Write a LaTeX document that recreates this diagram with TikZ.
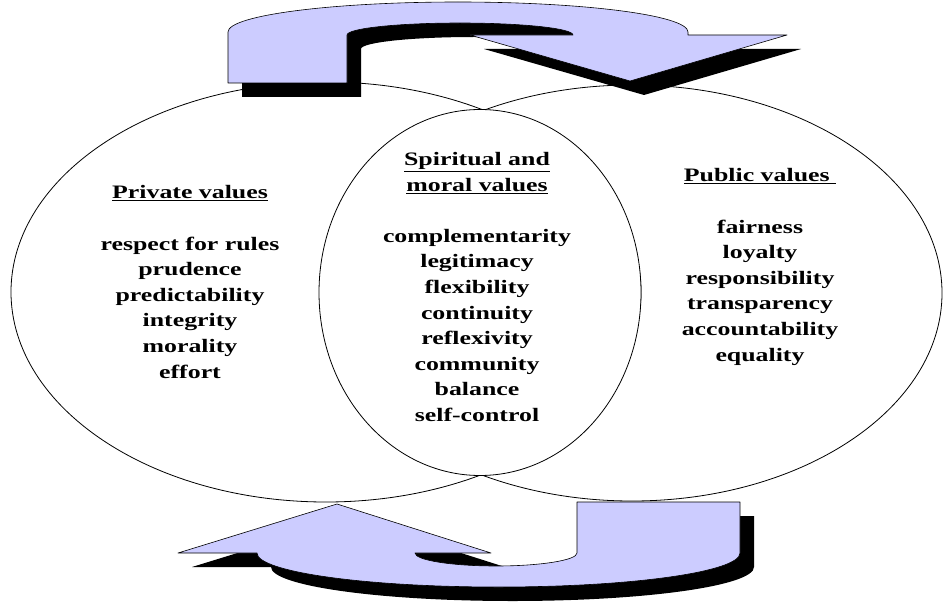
\documentclass[tikz,border=0pt]{standalone}
\usepackage{fontspec}
\setmainfont{Liberation Serif}[FakeStretch=1.36]
\usepackage{tikz}
\usetikzlibrary{positioning,shapes.geometric,calc}
\definecolor{arrowLilac}{HTML}{CCCCFF}

% outlines of the two turning arrows (pixel-like units, y downwards)
\newcommand{\toparrowpath}{(228,83) -- (228,32) arc[start angle=180,end angle=360,x radius=230,y radius=30] -- (688,35) -- (787,35) -- (630,81) -- (470,35) -- (573,35) arc[start angle=0,end angle=-180,x radius=113,y radius=12] -- (347,83) -- cycle}
\newcommand{\bottomarrowpath}{(257,553) -- (178,553) -- (337,504) -- (491,553) -- (415,553) arc[start angle=180,end angle=0,x radius=81,y radius=13] -- (577,502) -- (740,502) -- (740,553) arc[start angle=0,end angle=180,x radius=241.5,y radius=34] -- cycle}

\begin{document}
\begin{tikzpicture}[
  x=1pt,y=-1pt,
  every node/.style={align=center,font=\bfseries\fontsize{19}{25.6}\selectfont},
  valuering/.style={draw,ellipse,line width=0.8pt,inner sep=0pt},
  arrowbody/.style={fill=arrowLilac,draw=black,line width=0.6pt,line join=round},
  arrowshade/.style={fill=black,shift={(14,14)}}
]
\useasboundingbox (0,0) rectangle (944,607);

% --- value areas ---
\node[valuering,minimum width=630pt,minimum height=420pt] (private) at (326,292) {};
\node[valuering,minimum width=620pt,minimum height=416pt] (public) at (632,293) {};
\node[valuering,fill=white,minimum width=322pt,minimum height=366pt] (moral) at (480,292.5) {};

% --- value lists ---
\node (privlist) at (190,282) {\underline{Private values}\\[25.6pt]
  respect for rules\\prudence\\predictability\\integrity\\morality\\effort};
\node (morallist) at (477,287) {\underline{Spiritual and}\\\underline{moral values}\\[25.6pt]
  complementarity\\legitimacy\\flexibility\\continuity\\reflexivity\\community\\balance\\self-control};
\node (publist) at (760,267) {\underline{Public values\ }\\[25.6pt]
  fairness\\loyalty\\responsibility\\transparency\\accountability\\equality};

% --- turning arrows with shadow ---
\fill[arrowshade] \toparrowpath;
\filldraw[arrowbody] \toparrowpath;
\fill[arrowshade] \bottomarrowpath;
\filldraw[arrowbody] \bottomarrowpath;
\end{tikzpicture}
\end{document}
